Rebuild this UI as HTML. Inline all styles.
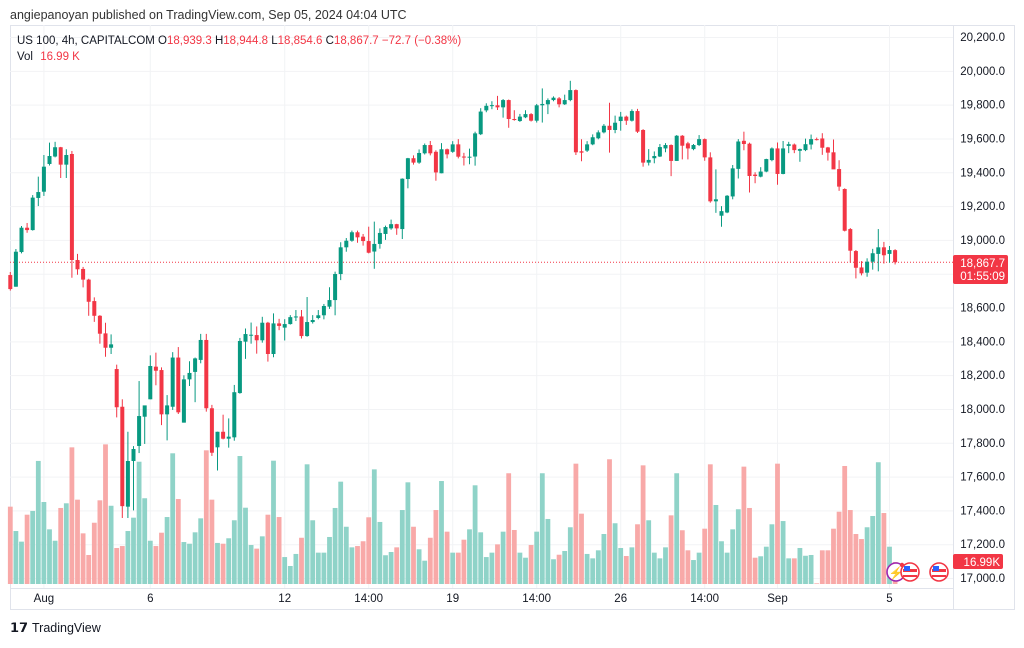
<!DOCTYPE html>
<html><head><meta charset="utf-8">
<style>
html,body{margin:0;padding:0;background:#fff;}
body{width:1024px;height:643px;overflow:hidden;font-family:"Liberation Sans",sans-serif;}
svg text{font-family:"Liberation Sans",sans-serif;}
</style></head>
<body>
<svg id="chart" width="1024" height="643" viewBox="0 0 1024 643" xmlns="http://www.w3.org/2000/svg">
  <text x="10" y="19" font-size="12.5" fill="#333">angiepanoyan published on TradingView.com, Sep 05, 2024 04:04 UTC</text>
  <rect x="10.5" y="25.5" width="1004" height="584" fill="none" stroke="#e0e3eb"/>
  <g id="grid"></g>
  <g id="vol"></g>
  <g id="candles"></g>
  <line x1="953.5" y1="25" x2="953.5" y2="609" stroke="#e0e3eb"/>
  <line x1="10" y1="588.5" x2="953" y2="588.5" stroke="#e0e3eb"/>
  <g id="yaxis"></g>
  <g id="xaxis"></g>
  <text x="17" y="44" font-size="11.5" fill="#131722">US 100, 4h, CAPITALCOM <tspan>O</tspan><tspan fill="#f23645">18,939.3</tspan> <tspan>H</tspan><tspan fill="#f23645">18,944.8</tspan> <tspan>L</tspan><tspan fill="#f23645">18,854.6</tspan> <tspan>C</tspan><tspan fill="#f23645">18,867.7</tspan> <tspan fill="#f23645">−72.7 (−0.38%)</tspan></text>
  <text x="17" y="60" font-size="11.5" fill="#131722">Vol <tspan fill="#f23645" dx="4">16.99 K</tspan></text>
  <g>
    <rect x="953" y="255" width="55" height="29" rx="2" fill="#f23645"/>
    <text x="1005" y="267" font-size="11.5" fill="#fff" text-anchor="end">18,867.7</text>
    <text x="1005" y="280" font-size="11.5" fill="#fff" text-anchor="end">01:55:09</text>
  </g>
  <g>
    <rect x="953" y="554" width="50" height="15" rx="2" fill="#f23645"/>
    <text x="1000" y="566" font-size="11.5" fill="#fff" text-anchor="end">16.99K</text>
  </g>
  <g>
    <circle cx="896" cy="572" r="9" fill="#fff" stroke="#9c27b0" stroke-width="1.6"/>
    <text x="896" y="577" font-size="12" fill="#9c27b0" text-anchor="middle">⚡</text>
    <circle cx="902" cy="565" r="2.2" fill="#f23645"/>
  </g>
  <g>
    <circle cx="910" cy="572" r="9" fill="#fff" stroke="#f23645" stroke-width="1.6"/>
    <rect x="903" y="569" width="14" height="3" fill="#f23645"/><rect x="903" y="575" width="14" height="2" fill="#f23645"/>
    <rect x="904" y="566" width="6" height="5" fill="#2962ff"/>
  </g>
  <g>
    <circle cx="939" cy="572" r="9" fill="#fff" stroke="#f23645" stroke-width="1.6"/>
    <rect x="932" y="569" width="14" height="3" fill="#f23645"/><rect x="932" y="575" width="14" height="2" fill="#f23645"/>
    <rect x="933" y="566" width="6" height="5" fill="#2962ff"/>
  </g>
  <g>
    <text x="10" y="632" font-size="13" font-weight="bold" fill="#131722">𝟭𝟳</text>
    <text x="32" y="632" font-size="12.5" fill="#131722">TradingView</text>
  </g>
</svg>
<script>
const opens=[18792,18723,18928,19072,19058,19248,19285,19449,19493,19548,19445,19508,18881,18828,18765,18638,18551,18447,18362,18236,18013,17422,17692,17781,17954,18057,18250,18230,17968,18013,18304,17919,18175,18219,18290,18408,18004,17773,17865,17824,17832,18094,18398,18437,18437,18406,18510,18325,18506,18481,18502,18543,18547,18431,18514,18538,18554,18605,18644,18798,18956,18995,19045,19019,18993,18931,18976,19035,19068,19093,19064,19360,19483,19457,19512,19561,19521,19394,19536,19521,19565,19493,19487,19493,19625,19766,19796,19796,19784,19827,19715,19703,19725,19744,19705,19796,19802,19827,19837,19802,19827,19886,19524,19528,19565,19601,19636,19675,19650,19703,19729,19705,19762,19650,19457,19483,19493,19541,19561,19467,19616,19571,19537,19561,19596,19488,19228,19143,19162,19257,19420,19586,19569,19386,19374,19404,19472,19541,19390,19556,19564,19527,19531,19564,19596,19600,19547,19518,19419,19301,19064,18934,18837,18806,18871,18917,18956,18917,18939.3];
const highs=[18810,18946,19082,19100,19265,19374,19502,19575,19580,19550,19536,19526,18917,18840,18770,18660,18555,18510,18441,18262,18057,17865,17780,18165,17982,18317,18333,18246,18082,18336,18366,18199,18282,18304,18444,18444,18024,17865,17966,17944,18142,18420,18476,18511,18488,18545,18515,18565,18533,18531,18555,18585,18585,18662,18555,18585,18621,18720,18812,18986,19011,19055,19055,19035,19078,19108,19068,19084,19120,19095,19364,19485,19500,19535,19570,19585,19530,19572,19540,19584,19596,19515,19540,19640,19779,19808,19820,19852,19833,19830,19767,19745,19767,19750,19804,19896,19837,19849,19845,19859,19941,19890,19595,19584,19624,19648,19685,19811,19735,19757,19735,19772,19775,19655,19537,19523,19567,19572,19565,19620,19620,19580,19567,19620,19600,19518,19417,19200,19265,19443,19596,19640,19575,19400,19430,19480,19547,19576,19585,19580,19570,19540,19599,19623,19605,19631,19550,19594,19471,19305,19070,18940,18874,18891,18947,19064,18988,18964,18944.8];
const lows=[18700,18723,18920,19042,19055,19200,19260,19440,19488,19366,19366,18776,18794,18719,18551,18515,18386,18309,18325,17950,17355,17355,17400,17739,17793,18057,18140,17904,17814,17994,17970,17919,18136,18040,18270,17984,17722,17636,17820,17771,17812,18090,18296,18386,18327,18392,18280,18306,18466,18405,18499,18520,18417,18427,18505,18530,18530,18592,18554,18762,18930,18989,18983,18966,18920,18829,18948,19000,19060,19030,19005,19305,19445,19450,19505,19500,19350,19394,19482,19515,19482,19440,19447,19439,19620,19755,19773,19768,19723,19663,19705,19698,19720,19700,19694,19694,19744,19820,19784,19798,19820,19502,19465,19520,19560,19595,19630,19516,19631,19646,19680,19700,19632,19433,19440,19453,19490,19518,19377,19467,19476,19476,19530,19555,19468,19220,19160,19078,19158,19240,19363,19530,19280,19335,19370,19400,19465,19326,19388,19513,19513,19462,19525,19535,19588,19503,19469,19510,19290,19050,18865,18772,18790,18782,18824,18814,18860,18865,18854.6];
const closes=[18709,18930,19072,19058,19250,19283,19433,19496,19548,19445,19502,18881,18826,18765,18634,18551,18445,18362,18382,18010,17425,17692,17763,17958,18021,18254,18226,17968,18021,18304,17980,18175,18213,18299,18408,18004,17741,17865,17824,17836,18099,18402,18443,18439,18406,18510,18325,18506,18491,18502,18543,18547,18431,18514,18526,18554,18609,18644,18798,18956,18995,19045,19015,18993,18924,18976,19041,19076,19093,19068,19362,19483,19457,19514,19561,19512,19399,19536,19506,19565,19492,19487,19492,19630,19759,19793,19797,19784,19827,19715,19709,19729,19744,19705,19796,19804,19827,19841,19802,19827,19886,19518,19516,19565,19607,19636,19675,19650,19693,19729,19705,19762,19640,19457,19473,19496,19549,19561,19467,19616,19557,19541,19561,19596,19488,19228,19240,19170,19261,19423,19582,19567,19378,19378,19404,19478,19541,19390,19541,19566,19531,19537,19566,19596,19592,19545,19516,19417,19315,19054,18936,18835,18802,18871,18921,18956,18909,18940,18867.7];
const volumes=[59.7,40.9,32.7,53.5,56.4,95.0,63.3,42.2,33.4,58.7,62.3,105.5,65.1,39.1,22.4,47.3,64.6,107.8,60.4,27.8,29.3,40.9,51.2,94.4,66.2,33.4,29.3,39.6,51.7,100.9,65.6,32.4,31.1,39.9,50.7,103.2,65.1,31.7,31.1,35.3,49.2,98.8,58.9,30.1,27.3,36.8,53.5,95.2,51.7,20.8,13.9,23.2,35.7,92.4,49.2,24.2,24.2,36.3,58.7,79.0,44.2,28.3,29.3,33.0,51.5,88.5,47.9,22.2,24.7,28.3,57.1,78.5,44.2,26.8,18.0,35.7,57.1,79.5,40.4,24.2,24.2,34.2,42.2,76.2,39.9,20.8,24.2,30.6,40.4,85.5,41.7,24.2,20.3,30.1,40.4,85.5,50.2,19.1,22.6,25.5,43.8,92.9,54.3,23.2,19.8,26.0,38.6,96.3,46.9,27.8,21.6,28.3,46.1,91.6,49.2,24.2,19.8,28.3,53.0,85.5,41.5,26.0,18.5,24.2,42.7,92.4,61.0,33.0,24.2,42.2,57.7,90.6,58.7,20.3,21.4,28.8,46.1,92.9,48.6,19.8,19.8,27.8,21.8,22.4,0.5,26.0,26.0,42.7,55.8,91.1,57.1,38.6,34.7,43.8,52.5,94.0,54.8,28.8,16.99];
const priceTicks=[17000,17200,17400,17600,17800,18000,18200,18400,18600,18800,19000,19200,19400,19600,19800,20000,20200];
const timeLabels=["Aug","6","12","14:00","19","14:00","26","14:00","Sep","5"];
const timeLabelIdx=[6,25,49,64,79,94,109,124,137,157];
const lastPrice=18867.7;

const NS="http://www.w3.org/2000/svg";
function yP(p){return 578-(p-17000)*0.16906;}
function xI(i){return 10.3+i*5.6;}
function yV(v){return 584-v/0.772;}
function mk(tag,attrs,parent){const e=document.createElementNS(NS,tag);for(const k in attrs)e.setAttribute(k,attrs[k]);parent.appendChild(e);return e;}

const grid=document.getElementById('grid'),yaxis=document.getElementById('yaxis'),xaxis=document.getElementById('xaxis');
priceTicks.forEach(p=>{
  const l=mk('line',{x1:10,x2:953,y1:yP(p)+0.5,y2:yP(p)+0.5,stroke:'#f2f3f5'},grid);
  
  
  const t=mk('text',{x:1005,y:yP(p)+4,'font-size':11.5,fill:'#131722','text-anchor':'end'},yaxis);
  t.textContent=p.toLocaleString('en-US',{minimumFractionDigits:1,maximumFractionDigits:1});
  
  
});
timeLabels.forEach((s,k)=>{
  const x=xI(timeLabelIdx[k]);
  const l=mk('line',{x1:x,x2:x,y1:25,y2:588,stroke:'#f2f3f5'},grid);
  
  
  const t=mk('text',{x:x,y:602,'font-size':11.5,fill:'#131722','text-anchor':'middle'},xaxis);
  t.textContent=s;
  
  
});
const pl=mk('line',{x1:10,x2:953,y1:yP(lastPrice),y2:yP(lastPrice),stroke:'#f23645','stroke-dasharray':'1 2','stroke-width':1},grid);



const vg=document.getElementById('vol'),cg=document.getElementById('candles');
for(let i=0;i<closes.length;i++){
  const up=closes[i]>=opens[i];
  const x=xI(i);
  const vb=mk('rect',{x:x-2.4,y:yV(volumes[i]),width:4.8,height:584-yV(volumes[i]),fill:up?'#8fd3c8':'#f8a9a8'},vg);
  
  
  const col=up?'#089981':'#f23645';
  const w=mk('line',{x1:x,x2:x,y1:yP(highs[i]),y2:yP(lows[i]),stroke:col,'stroke-width':1},cg);
  
  
  const top=yP(Math.max(opens[i],closes[i])),bot=yP(Math.min(opens[i],closes[i]));
  const b=mk('rect',{x:x-2,y:top,width:4,height:Math.max(1,bot-top),fill:col},cg);
  
  
}
</script>
</body></html>
